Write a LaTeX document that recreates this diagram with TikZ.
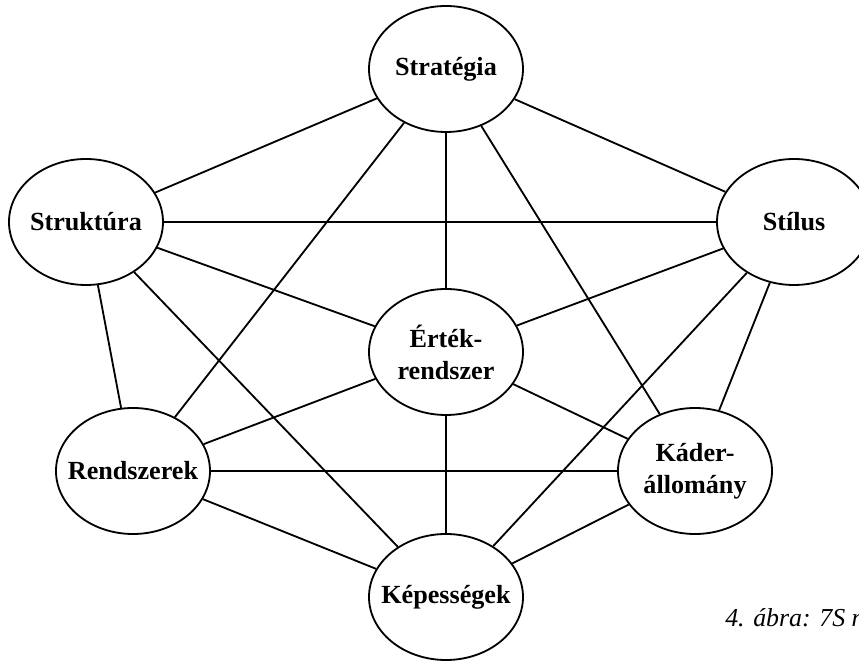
\documentclass[tikz,border=0pt]{standalone}
\usepackage{fontspec}
\setmainfont{Liberation Serif}
\usetikzlibrary{positioning, shapes.geometric}

\begin{document}
\begin{tikzpicture}[
	on grid,
	sfield/.style={ellipse, draw, line width=1.3pt, fill=white,
		minimum width=3.85cm, minimum height=3.15cm, inner xsep=-8pt,
		align=center, font=\fontsize{18.6}{22.7}\selectfont\bfseries},
	link/.style={line width=1.3pt}
]
	\useasboundingbox (-11.15,-7.75) rectangle (10.325,8.8);
	
	\node[sfield] (ert) {Érték-\\rendszer};
	\node[sfield, above=7.075cm of ert] (strat) {Stratégia};
	\node[sfield, above left=3.25cm and 9cm of ert] (strukt) {Struktúra};
	\node[sfield, above right=3.25cm and 8.7cm of ert] (stil) {Stílus};
	\node[sfield, below left=2.975cm and 7.825cm of ert] (rend) {Rendszerek};
	\node[sfield, below right=2.975cm and 6.225cm of ert] (kader) {Káder-\\állomány};
	\node[sfield, below=6.125cm of ert] (kep) {Képességek};
	
	\node[anchor=base west, inner sep=0pt, font=\fontsize{18.4}{21}\selectfont\itshape] (capt) at (6.975,-6.875) {4. ábra: 7S m};
	
	\draw[link]
		(strat) -- (strukt) (strat) -- (stil) (strat) -- (ert)
		(strat) -- (rend) (strat) -- (kader)
		(strukt) -- (stil) (strukt) -- (ert) (strukt) -- (rend) (strukt) -- (kep)
		(stil) -- (ert) (stil) -- (kader) (stil) -- (kep)
		(ert) -- (rend) (ert) -- (kader) (ert) -- (kep)
		(rend) -- (kader) (rend) -- (kep)
		(kader) -- (kep);
\end{tikzpicture}
\end{document}
